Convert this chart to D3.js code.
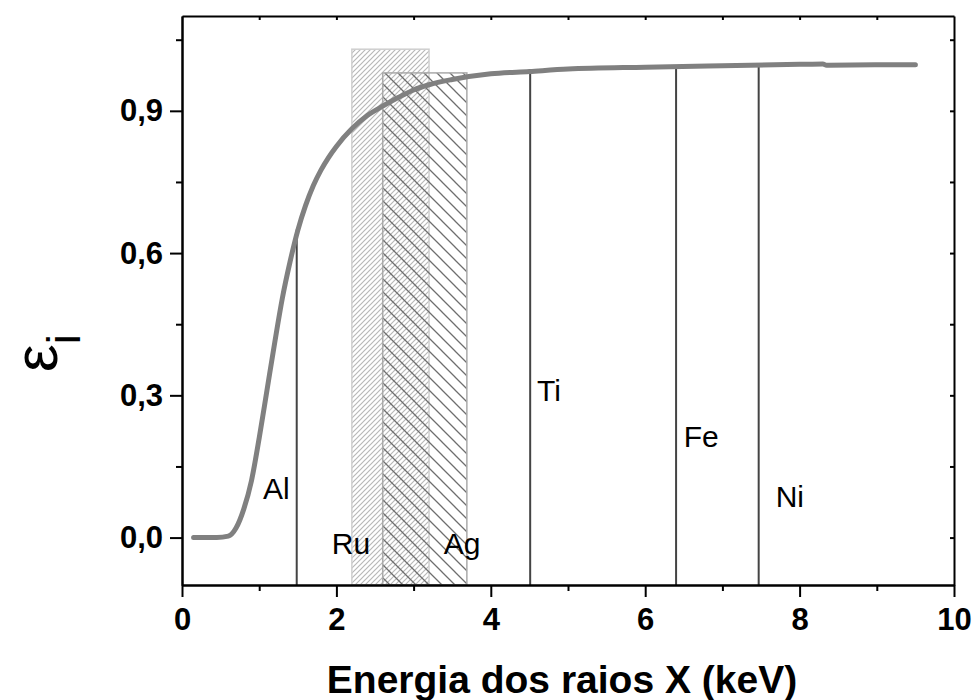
<!DOCTYPE html>
<html lang="pt">
<head>
<meta charset="UTF-8">
<title>Eficiência do detector</title>
<style>
  body { margin: 0; background: #fff; }
  .axis text { font-family: "Liberation Sans", Arial, sans-serif; font-weight: bold; font-size: 31px; fill: #000; }
  .axis path, .axis line { stroke: #000; stroke-width: 2; }
  .lbl { font-family: "Liberation Sans", Arial, sans-serif; font-size: 30px; fill: #000; }
</style>
</head>
<body>
<svg width="974" height="700"></svg>
<script src="https://d3js.org/d3.v7.min.js"></script>
<script>
// curva de eficiência
const energia = [0.15, 0.3, 0.45, 0.6, 0.7, 0.8, 0.9, 1.0, 1.1, 1.2, 1.3, 1.4, 1.5, 1.6, 1.7, 1.8, 1.9, 2.0, 2.2, 2.4, 2.6, 2.8, 3.0, 3.2, 3.5, 4.0, 4.5, 5.0, 6.0, 7.0, 8.0, 8.3, 8.35, 9.0, 9.5];
const eficiencia = [0, 0, 0, 0.003, 0.02, 0.06, 0.12, 0.21, 0.31, 0.41, 0.505, 0.582, 0.648, 0.70, 0.742, 0.775, 0.802, 0.825, 0.862, 0.89, 0.91, 0.928, 0.944, 0.955, 0.966, 0.978, 0.983, 0.988, 0.992, 0.995, 0.998, 0.999, 0.996, 0.997, 0.997];

// linhas K dos elementos
const linhaNome = ["Al", "Ti", "Fe", "Ni"];
const linhaEnergia = [1.486, 4.51, 6.40, 7.47];
const linhaTopo = [0.65, 0.982, 0.993, 0.997];

// faixas hachuradas (Ru, Ag)
const faixaNome = ["Ru", "Ag"];
const faixaIni = [2.2, 2.6];
const faixaFim = [3.2, 3.69];
const faixaTopo = [1.03, 0.98];

// onde ficam os rótulos (coordenadas de dados)
const rotuloNome = ["Al", "Ru", "Ag", "Ti", "Fe", "Ni"];
const rotuloX = [1.05, 1.94, 3.39, 4.60, 6.50, 7.69];
const rotuloY = [0.082, -0.034, -0.034, 0.289, 0.192, 0.065];

const xTicks = [0, 2, 4, 6, 8, 10];
const yTicks = [0, 0.3, 0.6, 0.9];
const yTickLabels = ["0,0", "0,3", "0,6", "0,9"];

const svg = d3.select("svg");
const x = d3.scaleLinear().domain([0, 10]).range([182, 954]);
const y = d3.scaleLinear().domain([-0.1, 1.1]).range([585, 16]);

// padrões de hachura
const defs = svg.append("defs");
defs.append("pattern").attr("id", "hRu").attr("patternUnits", "userSpaceOnUse")
  .attr("width", 5).attr("height", 5)
  .append("path").attr("d", "M0,5 L5,0 M-1,1 L1,-1 M4,6 L6,4")
  .attr("stroke", "#b8b8b8").attr("stroke-width", 1.2);
defs.append("pattern").attr("id", "hAg").attr("patternUnits", "userSpaceOnUse")
  .attr("width", 13).attr("height", 13)
  .append("path").attr("d", "M0,0 L13,13 M-1,12 L1,14 M12,-1 L14,1")
  .attr("stroke", "#6e6e6e").attr("stroke-width", 1.3);

const faixaFill = ["url(#hRu)", "url(#hAg)"];
const faixaBorda = ["#cfcfcf", "#aaaaaa"];
svg.selectAll(".faixa").data(faixaNome).enter().append("rect")
  .attr("class", "faixa")
  .attr("x", (d, i) => x(faixaIni[i]))
  .attr("width", (d, i) => x(faixaFim[i]) - x(faixaIni[i]))
  .attr("y", (d, i) => y(faixaTopo[i]))
  .attr("height", (d, i) => y(-0.1) - y(faixaTopo[i]))
  .attr("fill", (d, i) => faixaFill[i])
  .attr("stroke", (d, i) => faixaBorda[i])
  .attr("stroke-width", 1.5);

// linhas verticais
svg.selectAll(".linha").data(linhaNome).enter().append("line")
  .attr("class", "linha")
  .attr("x1", (d, i) => x(linhaEnergia[i])).attr("x2", (d, i) => x(linhaEnergia[i]))
  .attr("y1", y(-0.1)).attr("y2", (d, i) => y(linhaTopo[i]))
  .attr("stroke", "#444").attr("stroke-width", 2);

// curva
const pts = energia.map((e, i) => [e, eficiencia[i]]);
svg.append("path").datum(pts)
  .attr("fill", "none").attr("stroke", "#808080").attr("stroke-width", 5)
  .attr("stroke-linecap", "round").attr("stroke-linejoin", "round")
  .attr("d", d3.line().x(d => x(d[0])).y(d => y(d[1])).curve(d3.curveMonotoneX));

// rótulos
svg.selectAll(".lbl").data(rotuloNome).enter().append("text")
  .attr("class", "lbl")
  .attr("x", (d, i) => x(rotuloX[i]))
  .attr("y", (d, i) => y(rotuloY[i]))
  .text(d => d);

// eixos
const xMinor = d3.range(1, 10, 2);
const yMinor = [0.15, 0.45, 0.75, 1.05];

svg.append("g").attr("class", "axis").attr("transform", `translate(0,${y(-0.1)})`)
  .call(d3.axisBottom(x).tickValues(xMinor).tickSize(6).tickSizeOuter(0).tickFormat(""));
svg.append("g").attr("class", "axis").attr("transform", `translate(0,${y(-0.1)})`)
  .call(d3.axisBottom(x).tickValues(xTicks).tickSize(12).tickSizeOuter(0).tickPadding(11).tickFormat(d3.format("d")));

svg.append("g").attr("class", "axis").attr("transform", `translate(${x(0)},0)`)
  .call(d3.axisLeft(y).tickValues(yMinor).tickSize(6).tickSizeOuter(0).tickFormat(""));
svg.append("g").attr("class", "axis").attr("transform", `translate(${x(0)},0)`)
  .call(d3.axisLeft(y).tickValues(yTicks).tickSize(12).tickSizeOuter(0).tickPadding(7)
    .tickFormat((d, i) => yTickLabels[i]));

svg.append("g").attr("class", "axis").attr("transform", `translate(0,${y(1.1)})`)
  .call(d3.axisTop(x).tickValues(d3.range(1, 10)).tickSize(-4).tickSizeOuter(0).tickFormat(""));
svg.append("g").attr("class", "axis").attr("transform", `translate(${x(10)},0)`)
  .call(d3.axisRight(y).tickValues([0, 0.15, 0.3, 0.45, 0.6, 0.75, 0.9, 1.05]).tickSize(-4).tickSizeOuter(0).tickFormat(""));

// títulos
svg.append("text")
  .attr("x", (x(0) + x(10)) / 2 - 6).attr("y", 693)
  .attr("text-anchor", "middle")
  .style("font-family", "'Liberation Sans', Arial, sans-serif")
  .style("font-weight", "bold").style("font-size", "39px")
  .text("Energia dos raios X (keV)");

const yt = svg.append("text")
  .attr("transform", "translate(57,372) rotate(-90)")
  .style("font-family", "'Liberation Sans', Arial, sans-serif")
  .style("font-size", "62px");
yt.append("tspan").text("ε");
yt.append("tspan").attr("dy", 23).style("font-size", "46px").text("i");
</script>
</body>
</html>
